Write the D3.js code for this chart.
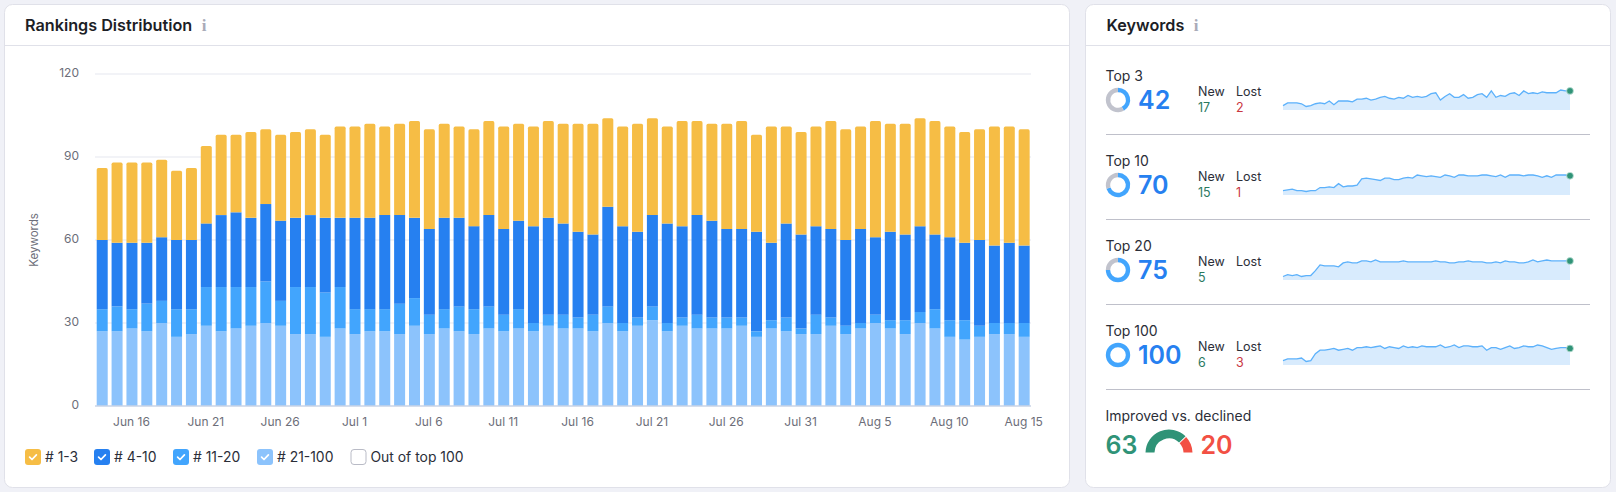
<!DOCTYPE html>
<html>
<head>
<meta charset="utf-8">
<script src="https://cdn.jsdelivr.net/npm/d3@7"></script>
<style>
html,body{margin:0;padding:0;background:#f0f1f7;}
svg{display:block;font-family:Inter,"Noto Sans",sans-serif;}
.domain{display:none;}
</style>
</head>
<body>
<svg id="c" width="1616" height="492"></svg>
<script>
// ---------- Data ----------
const r21_100 = [27,27,28,27,30,25,26,29,27,28,29,30,29,26,26,25,28,26,27,27,26,29,26,28,27,26,28,27,28,27,29,28,28,27,30,27,29,31,27,29,28,28,28,29,25,28,27,26,26,29,26,28,30,28,26,30,28,25,24,25,26,26,25];
const r11_20  = [8,9,7,10,8,10,9,14,16,15,14,15,9,17,17,16,15,9,8,8,11,10,7,7,9,9,8,6,7,3,4,5,4,6,6,3,3,5,3,3,5,4,4,3,2,3,5,2,7,3,3,2,3,3,5,4,7,6,7,4,4,4,5];
const r4_10   = [25,23,24,22,23,25,25,23,26,27,25,28,29,25,26,27,25,33,33,34,32,29,31,33,32,30,33,31,32,35,35,33,31,29,36,35,31,33,36,33,36,35,32,32,36,28,34,34,32,32,31,34,28,32,31,31,27,30,28,31,28,29,28];
const r1_3    = [26,29,29,29,28,25,26,28,29,28,31,27,31,31,31,30,33,33,34,32,33,35,36,34,33,35,34,37,35,36,35,36,39,40,32,36,39,35,35,38,34,35,38,39,35,42,35,37,36,39,40,37,42,39,40,39,41,40,40,40,43,42,42];
const yTicks = [0,30,60,90,120];
const xTickLabels = ["Jun 16","Jun 21","Jun 26","Jul 1","Jul 6","Jul 11","Jul 16","Jul 21","Jul 26","Jul 31","Aug 5","Aug 10","Aug 15"];
const legendLabels = ["# 1-3","# 4-10","# 11-20","# 21-100","Out of top 100"];
const rowLabels = ["Top 3","Top 10","Top 20","Top 100"];
const rowValues = [42,70,75,100];
const rowNew = [17,15,5,6];
const rowLost = [2,1,null,3];
const improved = 63;
const declined = 20;

// ---------- Derived ----------
const fmt = d3.timeFormat("%b %-d");
const days = d3.timeDay.range(new Date(2023,5,14), new Date(2023,7,16));
const rows = days.map((d,i)=>({day:d,a:r21_100[i],b:r11_20[i],c:r4_10[i],d:r1_3[i]}));
const top3 = r1_3;
const top10 = r1_3.map((v,i)=>v+r4_10[i]);
const top20 = top10.map((v,i)=>v+r11_20[i]);
const top100 = top20.map((v,i)=>v+r21_100[i]);
const sparkSeries = [top3,top10,top20,top100];

const C = {top:"#f6bd45",dark:"#2680f0",mid:"#42a5fd",light:"#8cc3fc",grid:"#eeeff5",
  text:"#2b2e38",muted:"#6c6e79",green:"#2f9377",red:"#f25044",border:"#e0e1e9",gray:"#c1c3cd"};

const svg = d3.select("#c");

// ---------- Cards ----------
function card(x,y,w,h,title,titleX,iconX){
  svg.append("rect").attr("x",x).attr("y",y).attr("width",w).attr("height",h).attr("rx",8)
    .attr("fill","#fff").attr("stroke",C.border).attr("stroke-width",1);
  svg.append("line").attr("x1",x).attr("x2",x+w).attr("y1",45.5).attr("y2",45.5).attr("stroke",C.border);
  svg.append("text").attr("x",titleX).attr("y",25).attr("dy","0.35em").attr("font-size",16.2)
    .attr("font-weight",600).attr("fill","#1c1e26").text(title);
  svg.append("text").attr("x",iconX).attr("y",25).attr("dy","0.35em").attr("text-anchor","middle")
    .attr("font-size",17).attr("font-weight",700)
    .attr("font-family","'Liberation Serif',serif").attr("fill","#a9abb8").text("i");
}
card(4.5,4.5,1065,483,"Rankings Distribution",25,204);
card(1085.5,4.5,525,483,"Keywords",1106.5,1196);

// ---------- Stacked bars ----------
const x = d3.scaleBand().domain(days).range([94.77,1031.6]).paddingInner(0.26).paddingOuter(0.13);
const y = d3.scaleLinear().domain([0,120]).range([406,74]);

const yAxis = d3.axisLeft(y).tickValues(yTicks).tickSize(0).tickPadding(0);
const gy = svg.append("g").attr("transform","translate(79,-1)").call(yAxis);
gy.selectAll("text").attr("font-size",12).attr("fill",C.muted).attr("font-family","Inter");

svg.append("g").selectAll("line").data(yTicks.filter(t=>t>0)).join("line")
  .attr("x1",95).attr("x2",1031).attr("y1",d=>y(d)).attr("y2",d=>y(d))
  .attr("stroke",C.grid).attr("stroke-width",1.6);

const stack = d3.stack().keys(["a","b","c","d"]);
const colors = {a:C.light,b:C.mid,c:C.dark,d:C.top};
const layers = stack(rows);
const bw = x.bandwidth();
svg.append("g").selectAll("g").data(layers).join("g").attr("fill",l=>colors[l.key])
  .each(function(l){
    d3.select(this).selectAll("path").data(l).join("path").attr("d",d=>{
      const xx=x(d.data.day), t=y(d[1]), b=y(d[0]);
      if(l.key==="d"){
        const p=d3.path(), r=1.6;
        p.moveTo(xx,b);p.lineTo(xx,t+r);p.quadraticCurveTo(xx,t,xx+r,t);
        p.lineTo(xx+bw-r,t);p.quadraticCurveTo(xx+bw,t,xx+bw,t+r);p.lineTo(xx+bw,b);p.closePath();
        return p.toString();
      }
      return `M${xx},${b}V${t}H${xx+bw}V${b}Z`;
    });
  });

svg.append("line").attr("x1",95).attr("x2",1031).attr("y1",y(0)).attr("y2",y(0))
  .attr("stroke","#c8d3e6").attr("stroke-width",1.5);

const xTickDays = days.filter(d=>xTickLabels.includes(fmt(d)));
const xAxis = d3.axisBottom(x).tickValues(xTickDays).tickFormat(fmt).tickSize(0).tickPadding(0);
const gx = svg.append("g").attr("transform","translate(-0.5,417)").call(xAxis);
gx.selectAll("text").attr("font-size",12).attr("fill",C.muted).attr("font-family","Inter");

svg.append("text").attr("transform","translate(34,240) rotate(-90)").attr("text-anchor","middle")
  .attr("dy","0.35em").attr("font-size",11.5).attr("fill",C.muted).text("Keywords");

// ---------- Legend ----------
const legendBoxX = [25,94,173,257,350.5];
const legendColors = [C.top,C.dark,C.mid,C.light,null];
const lg = svg.append("g").selectAll("g").data(legendLabels).join("g")
  .attr("transform",(d,i)=>`translate(${legendBoxX[i]},449)`);
lg.append("rect").attr("x",(d,i)=>legendColors[i]?0:0.5).attr("y",(d,i)=>legendColors[i]?0:0.5)
  .attr("width",(d,i)=>legendColors[i]?16:15).attr("height",(d,i)=>legendColors[i]?16:15).attr("rx",3)
  .attr("fill",(d,i)=>legendColors[i]||"#fff").attr("stroke",(d,i)=>legendColors[i]?"none":"#b9bbc6");
lg.filter((d,i)=>legendColors[i]).append("path").attr("d","M4.6,8.2L7,10.5L11.4,5.8")
  .attr("fill","none").attr("stroke","#fff").attr("stroke-width",1.7).attr("stroke-linecap","round").attr("stroke-linejoin","round");
lg.append("text").attr("x",20).attr("y",8).attr("dy","0.35em").attr("font-size",13.9)
  .attr("fill",C.text).text(d=>d);

// ---------- Keyword rows ----------
const arc = d3.arc();
rowLabels.forEach((label,i)=>{
  const o = 85*i;
  const g = svg.append("g").attr("transform",`translate(0,${o})`);
  g.append("text").attr("x",1105.5).attr("y",76).attr("dy","0.35em").attr("font-size",14).attr("fill",C.text).text(label);
  const pie = d3.pie().sort(null).startAngle(0).endAngle(2*Math.PI)([rowValues[i],100-rowValues[i]]);
  g.append("g").attr("transform","translate(1118,100)").selectAll("path").data(pie).join("path")
    .attr("d",d=>arc({innerRadius:7.8,outerRadius:12.2,startAngle:d.startAngle,endAngle:d.endAngle}))
    .attr("fill",(d,j)=>j===0?"#42a5fd":C.gray);
  g.append("text").attr("x",1138).attr("y",100).attr("dy","0.36em").attr("font-size",25)
    .attr("font-weight",600).attr("fill","#2680f0").text(rowValues[i]);
  g.append("text").attr("x",1198).attr("y",92).attr("dy","0.35em").attr("font-size",12.5).attr("fill",C.text).text("New");
  g.append("text").attr("x",1236).attr("y",92).attr("dy","0.35em").attr("font-size",12.5).attr("fill",C.text).text("Lost");
  g.append("text").attr("x",1198).attr("y",108).attr("dy","0.35em").attr("font-size",12.5).attr("fill","#2b7a5f").text(rowNew[i]);
  if(rowLost[i]!==null) g.append("text").attr("x",1236).attr("y",108).attr("dy","0.35em").attr("font-size",12.5).attr("fill","#c9373f").text(rowLost[i]);

  const vals = sparkSeries[i];
  const sx = d3.scaleLinear().domain([0,vals.length-1]).range([1283,1570]);
  const sy = d3.scaleLinear().domain(d3.extent(vals)).range([106.5,90]);
  g.append("path").datum(vals).attr("fill","#d8ebfd")
    .attr("d",d3.area().x((d,j)=>sx(j)).y0(110).y1(d=>sy(d)));
  g.append("path").datum(vals).attr("fill","none").attr("stroke","#5cb1fb").attr("stroke-width",1.3)
    .attr("d",d3.line().x((d,j)=>sx(j)).y(d=>sy(d)));
  g.append("circle").attr("cx",sx(vals.length-1)).attr("cy",sy(vals[vals.length-1])).attr("r",3.4)
    .attr("fill",C.green).attr("stroke","#bfe0d6").attr("stroke-width",0.8);
  g.append("line").attr("x1",1106).attr("x2",1590).attr("y1",134.5).attr("y2",134.5).attr("stroke","#bfc0ca");
});

// ---------- Improved vs declined ----------
svg.append("text").attr("x",1105.5).attr("y",416).attr("dy","0.35em").attr("font-size",14).attr("fill",C.text).text("Improved vs. declined");
svg.append("text").attr("x",1105.5).attr("y",445).attr("dy","0.36em").attr("font-size",25).attr("font-weight",600).attr("fill",C.green).text(improved);
svg.append("text").attr("x",1200.5).attr("y",445).attr("dy","0.36em").attr("font-size",25).attr("font-weight",600).attr("fill",C.red).text(declined);
const gauge = d3.pie().sort(null).startAngle(-Math.PI/2).endAngle(Math.PI/2).padAngle(0.03)([improved,declined]);
svg.append("g").attr("transform","translate(1169,453)").selectAll("path").data(gauge).join("path")
  .attr("d",d=>arc({innerRadius:14.5,outerRadius:23.5,startAngle:d.startAngle,endAngle:d.endAngle,padAngle:d.padAngle}))
  .attr("fill",(d,j)=>j===0?C.green:C.red);
</script>
</body>
</html>
